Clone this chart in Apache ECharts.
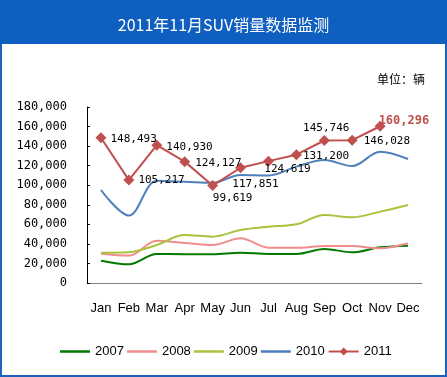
<!DOCTYPE html>
<html>
<head>
<meta charset="utf-8">
<script src="https://cdn.jsdelivr.net/npm/echarts@6/dist/echarts.min.js"></script>
<style>
  body { margin: 0; }
  #main { width: 447px; height: 377px; }
</style>
</head>
<body>
<div id="main"></div>
<script>
var months = ['Jan', 'Feb', 'Mar', 'Apr', 'May', 'Jun', 'Jul', 'Aug', 'Sep', 'Oct', 'Nov', 'Dec'];
var years = ['2007', '2008', '2009', '2010', '2011'];

var s2007 = [22800, 19100, 29700, 29500, 29500, 31000, 29700, 29700, 34800, 31400, 36500, 38200];
var s2008 = [30000, 28000, 43300, 41000, 38900, 45700, 36100, 36000, 37800, 37800, 35500, 40600];
var s2009 = [31000, 31500, 38900, 49000, 47400, 54200, 57600, 60000, 69500, 67200, 73000, 79800];
var s2010 = [95100, 69000, 104500, 103600, 102500, 110500, 110000, 119000, 125800, 119600, 134300, 126800];
var s2011 = [148493, 105217, 140930, 124127, 99619, 117851, 124619, 131200, 145746, 146028, 160296];

var yTicks = { min: 0, max: 180000, interval: 20000 };

var myChart = echarts.init(document.getElementById('main'));

function fmt(v) {
    return String(v).replace(/\B(?=(\d{3})+(?!\d))/g, ',');
}

// where each 2011 label sits relative to its marker
var labelPlace = [
    { position: 'right', offset: [-2, 1] },
    { position: 'right', offset: [-2, 0] },
    { position: 'right', offset: [-2, 2] },
    { position: 'right', offset: [-1, 2] },
    { position: 'bottom', offset: [20, -4] },
    { position: 'bottom', offset: [15, -1] },
    { position: 'bottom', offset: [19, -9] },
    { position: 'right', offset: [-5, 1] },
    { position: 'top', offset: [2, 5] },
    { position: 'right', offset: [0, 1] },
    { position: 'right', offset: [-13, -5], big: true }
];

var data2011 = s2011.map(function (v, i) {
    var p = labelPlace[i];
    var lab = {
        show: true,
        position: p.position,
        offset: p.offset,
        distance: 6,
        color: '#000',
        fontFamily: 'DejaVu Sans Mono',
        fontSize: 11,
        formatter: function (o) { return fmt(o.value); }
    };
    if (p.big) {
        lab.color = '#c0504d';
        lab.fontWeight = 'bold';
        lab.fontSize = 12;
    }
    return { value: v, label: lab };
});

function smoothLine(name, data, color) {
    return {
        name: name,
        type: 'line',
        data: data,
        smooth: 0.35,
        symbol: 'none',
        lineStyle: { width: 2, color: color },
        itemStyle: { color: color }
    };
}

var lineIcon = 'path://M0,0H30V2.5H0Z';

var option = {
    animation: false,
    backgroundColor: '#fff',
    title: {
        text: '2011年11月SUV销量数据监测',
        left: 'center',
        top: 12,
        textStyle: {
            color: '#fff',
            fontSize: 16,
            fontWeight: 'normal',
            fontFamily: 'Noto Sans CJK SC'
        }
    },
    graphic: [
        {
            type: 'rect',
            z: -10,
            shape: { x: 1, y: 1, width: 445, height: 375 },
            style: { fill: '#fff', stroke: '#1a62be', lineWidth: 2 }
        },
        {
            type: 'rect',
            z: -9,
            shape: { x: 0, y: 0, width: 447, height: 44 },
            style: { fill: '#0e5fbf' }
        },
        {
            type: 'text',
            left: 377,
            top: 73,
            style: {
                text: '单位：辆',
                fill: '#000',
                fontSize: 12,
                fontFamily: 'Noto Sans CJK SC'
            }
        }
    ],
    legend: {
        data: [
            { name: '2007', icon: lineIcon },
            { name: '2008', icon: lineIcon },
            { name: '2009', icon: lineIcon },
            { name: '2010', icon: lineIcon },
            { name: '2011' }
        ],
        bottom: 14,
        left: 55,
        itemWidth: 30,
        itemHeight: 10,
        itemGap: 3,
        symbolKeepAspect: true,
        textStyle: { fontSize: 13, fontFamily: 'Liberation Sans', color: '#000' }
    },
    grid: { left: 87, right: 25, top: 107, bottom: 94 },
    xAxis: {
        type: 'category',
        data: months,
        boundaryGap: true,
        axisLine: { lineStyle: { color: '#808080', width: 1 } },
        axisTick: { inside: true, length: 4, lineStyle: { color: '#808080' } },
        axisLabel: { margin: 19, fontSize: 13, fontFamily: 'Liberation Sans', color: '#000', interval: 0 }
    },
    yAxis: {
        type: 'value',
        min: yTicks.min,
        max: yTicks.max,
        interval: yTicks.interval,
        splitLine: { show: false },
        axisLine: { show: true, lineStyle: { color: '#000', width: 1 } },
        axisTick: { show: true, inside: true, length: 3, lineStyle: { color: '#000' } },
        axisLabel: {
            margin: 20,
            fontSize: 12,
            fontFamily: 'DejaVu Sans Mono',
            color: '#000',
            formatter: fmt
        }
    },
    series: [
        smoothLine('2007', s2007, '#007a00'),
        smoothLine('2008', s2008, '#f08c8c'),
        smoothLine('2009', s2009, '#a8c43c'),
        smoothLine('2010', s2010, '#4f7fbc'),
        {
            name: '2011',
            type: 'line',
            data: data2011,
            symbol: 'diamond',
            symbolSize: 11,
            lineStyle: { width: 2, color: '#c0504d' },
            itemStyle: { color: '#c0504d' },
            z: 5
        }
    ]
};

myChart.setOption(option);
</script>
</body>
</html>
